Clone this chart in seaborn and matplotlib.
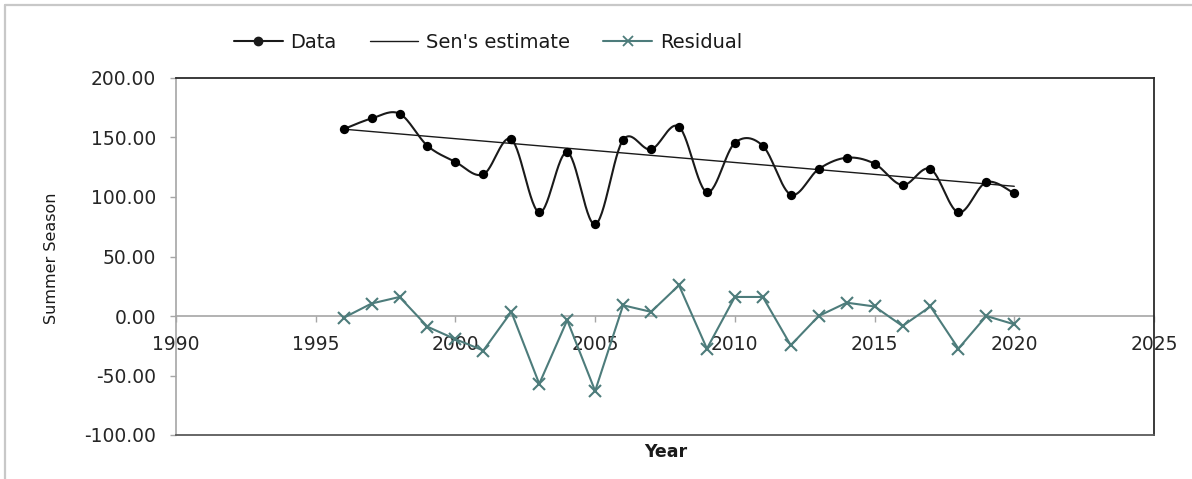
import numpy as np
import pandas as pd
import matplotlib
matplotlib.use("Agg")
import matplotlib.pyplot as plt
from matplotlib.lines import Line2D
import seaborn as sns

# ---- data ----
years = [1996, 1997, 1998, 1999, 2000, 2001, 2002, 2003, 2004, 2005, 2006, 2007,
         2008, 2009, 2010, 2011, 2012, 2013, 2014, 2015, 2016, 2017, 2018, 2019, 2020]
data_values = [157.0, 166.0, 170.0, 143.0, 129.5, 119.0, 148.5, 87.0, 137.5, 77.0, 148.0, 140.0,
               159.0, 104.0, 145.5, 143.0, 102.0, 123.5, 133.0, 128.0, 110.0, 123.5, 87.0, 112.5, 103.0]
residual_values = [-1.5, 10.5, 16.0, -9.0, -19.5, -29.0, 3.5, -57.0, -3.5, -63.0, 9.0, 3.5,
                   25.8, -27.4, 16.0, 16.0, -24.6, 0.0, 11.2, 8.0, -8.4, 8.0, -27.4, 0.0, -7.0]
sen_years = [1996, 2020]
sen_values = [157.0, 109.0]
x_ticks = [1990, 1995, 2000, 2005, 2010, 2015, 2020, 2025]
y_ticks = [-100, -50, 0, 50, 100, 150, 200]
legend_labels = ["Data", "Sen's estimate", "Residual"]

RES_COLOR = "#4d7c7b"

sns.set_theme(style="white")
plt.rcParams["font.family"] = ["DejaVu Sans"]

fig = plt.figure(figsize=(11.92, 4.79), dpi=100)
ax = fig.add_axes([176 / 1192, 44 / 479, (1154 - 176) / 1192, (435 - 78) / 479])


def smooth_curve(xs, ys, n=30):
    """Excel-style smoothed line (Catmull-Rom Bezier) through the data points, for drawing only."""
    p = np.column_stack([np.asarray(xs, float), np.asarray(ys, float)])
    pts = np.vstack([p[0], p, p[-1]])
    out = []
    t = np.linspace(0, 1, n)[:, None]
    for i in range(1, len(pts) - 2):
        p0, p1, p2, p3 = pts[i - 1], pts[i], pts[i + 1], pts[i + 2]
        c1 = p1 + (p2 - p0) / 6.0
        c2 = p2 - (p3 - p1) / 6.0
        seg = ((1 - t) ** 3) * p1 + 3 * ((1 - t) ** 2) * t * c1 + 3 * (1 - t) * t ** 2 * c2 + t ** 3 * p2
        out.append(seg if i == 1 else seg[1:])
    c = np.vstack(out)
    return c[:, 0], c[:, 1]


sx, sy = smooth_curve(years, data_values)
curve_df = pd.DataFrame({"x": sx, "y": sy})
data_df = pd.DataFrame({"Year": years, "Data": data_values, "Residual": residual_values})
sen_df = pd.DataFrame({"Year": sen_years, "Sen": sen_values})

# Sen's estimate
sns.lineplot(data=sen_df, x="Year", y="Sen", ax=ax, color="#1a1a1a", linewidth=1.0, zorder=3)
# Data (smoothed line + markers)
sns.lineplot(data=curve_df, x="x", y="y", ax=ax, sort=False, color="#1a1a1a", linewidth=1.5,
             estimator=None, zorder=4)
sns.scatterplot(data=data_df, x="Year", y="Data", ax=ax, color="black", s=45, marker="o",
                edgecolor="black", linewidth=0, zorder=5)
# Residual
sns.lineplot(data=data_df, x="Year", y="Residual", ax=ax, color=RES_COLOR, linewidth=1.5,
             marker="x", markersize=8, markeredgewidth=1.5, markeredgecolor=RES_COLOR, zorder=4)

ax.set_xlim(1990, 2025)
ax.set_ylim(-100, 200)
ax.set_xlabel("")
ax.set_ylabel("")

# frame
ax.spines["top"].set_color("#2b2b2b")
ax.spines["right"].set_color("#2b2b2b")
ax.spines["bottom"].set_color("#5a5a5a")
ax.spines["left"].set_color("#a6a6a6")
for s in ax.spines.values():
    s.set_linewidth(1.3)
ax.spines["left"].set_linewidth(1.2)

# y axis
ax.set_yticks(y_ticks)
ax.set_yticklabels([f"{v:.2f}" for v in y_ticks])
ax.tick_params(axis="y", which="major", left=True, length=4.5, width=1.0, color="#a6a6a6",
               pad=10, labelsize=13.5, labelcolor="#262626")

# x axis sits at y = 0
ax.set_xticks([])
sec = ax.secondary_xaxis(100 / 300)
sec.set_xticks(x_ticks)
sec.set_xticklabels([str(v) for v in x_ticks])
sec.spines["bottom"].set_color("#a6a6a6")
sec.spines["bottom"].set_linewidth(1.2)
sec.tick_params(axis="x", direction="out", length=4, width=1.0, color="#a6a6a6",
                pad=10, labelsize=13.5, labelcolor="#262626")

fig.text(52 / 1192, 1 - 258 / 479, "Summer Season", rotation=90, ha="center", va="center",
         fontsize=11.5, color="#1a1a1a")
fig.text(666 / 1192, 1 - 452 / 479, "Year", ha="center", va="center", fontsize=12.5,
         fontweight="bold", color="#1a1a1a")

handles = [
    Line2D([], [], color="#1a1a1a", linewidth=1.5, marker="o", markersize=6),
    Line2D([], [], color="#1a1a1a", linewidth=1.0),
    Line2D([], [], color=RES_COLOR, linewidth=1.5, marker="x", markersize=7, markeredgewidth=1.3),
]
fig.legend(handles, legend_labels, loc="center", bbox_to_anchor=(488 / 1192, 1 - 42 / 479),
           ncol=3, frameon=False, fontsize=14, handlelength=2.5, handletextpad=0.4,
           columnspacing=1.7, labelcolor="#1a1a1a")

# outer chart-area border (left and top edges visible in the reference)
fig.add_artist(Line2D([5 / 1192, 5 / 1192], [0, 1 - 5 / 479], transform=fig.transFigure,
                      color="#c8c8c8", linewidth=1.6))
fig.add_artist(Line2D([5 / 1192, 1], [1 - 5 / 479, 1 - 5 / 479], transform=fig.transFigure,
                      color="#c8c8c8", linewidth=1.6))

fig.savefig("out.png", dpi=100)
